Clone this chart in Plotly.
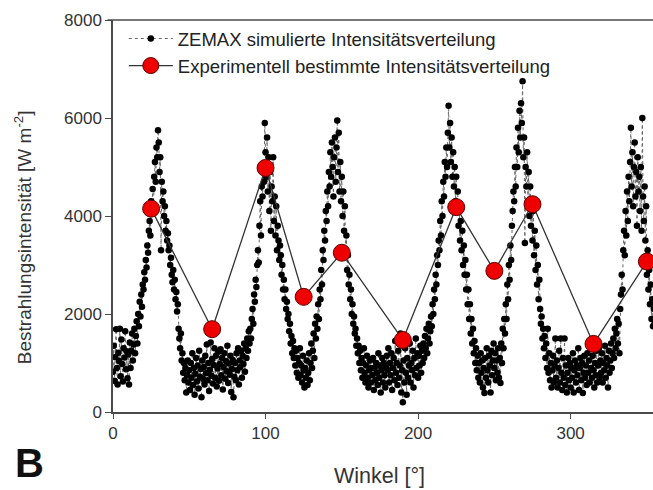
import plotly.graph_objects as go

# ZEMAX simulated intensity, sampled every 0.5 degree starting at 0 deg (W m^-2)
sim_values = [
    820, 1350, 640, 1120, 1690, 900, 560, 1210, 1040, 1700, 730, 1480, 980, 620, 1300, 1110, 1650, 870, 1240, 690,
    1180, 560, 1420, 900, 1250, 1600, 1050, 1380, 1700, 1200, 1550, 1850, 1400, 2000, 1750, 2250, 1950, 2400, 2150, 2600,
    2500, 2850, 2700, 3100, 2950, 3400, 3250, 3700, 3900, 3600, 4300, 4050, 4550, 4200, 4800, 5100, 4700, 5400, 5200, 5750,
    5500, 4900, 5200, 3300, 4700, 4300, 4500, 4000, 4200, 3700, 3900, 3500, 3650, 3300, 3400, 3000, 3150, 2800, 2650, 2900,
    2500, 2700, 2300, 2450, 2050, 2200, 1700, 1500, 1300, 1600, 1050, 1200, 800, 1000, 650, 900, 400, 750, 1050, 600,
    850, 450, 1000, 700, 1200, 550, 900, 350, 780, 1100, 620, 950, 480, 1250, 720, 880, 300, 1050, 680, 920,
    560, 1150, 790, 1380, 650, 1000, 430, 860, 1420, 740, 1080, 580, 960, 1300, 700, 1150, 520, 890, 1230, 640,
    980, 1280, 750, 1100, 460, 920, 1200, 680, 1040, 830, 1350, 590, 990, 760, 1150, 410, 880, 1060, 300, 720,
    1000, 650, 1200, 850, 1300, 560, 1050, 920, 1250, 700, 1150, 980, 1400, 820, 1300, 1100, 1500, 1250, 1650, 1400,
    1700, 1500, 1900, 2100, 1800, 2400, 2250, 2700, 2550, 3000, 3300, 3050, 3800, 4300, 3600, 4600, 4400, 5000, 4700, 5900,
    5300, 4800, 5600, 4500, 5200, 4100, 4900, 3700, 4600, 4300, 5200, 3900, 4400, 3600, 4200, 3300, 3800, 3500, 3100, 3400,
    3200, 2800, 3000, 2500, 2700, 2300, 2500, 2100, 2250, 1900, 2000, 1650, 1800, 1400, 1550, 1200, 1450, 1100, 1300, 950,
    1250, 800, 1100, 700, 1000, 1300, 750, 950, 600, 1150, 850, 500, 900, 700, 1050, 550, 800, 1200, 650, 1000,
    1400, 900, 1250, 1600, 1100, 1800, 1500, 1950, 1700, 2200, 1900, 2500, 2300, 2900, 2600, 3300, 3100, 3700, 3500, 4100,
    3900, 4500, 4200, 4900, 4600, 5300, 4800, 5500, 5000, 4400, 5200, 5600, 4700, 5400, 5950, 4900, 5700, 4500, 5100, 4300,
    4800, 4000, 4500, 3700, 4200, 3300, 3600, 2900, 3200, 2600, 2800, 2300, 2500, 2000, 2200, 1800, 1950, 1600, 1700, 1350,
    1500, 1200, 1350, 1000, 1250, 850, 1100, 700, 1000, 1300, 800, 600, 950, 1150, 700, 500, 850, 1050, 600, 900,
    750, 1100, 450, 900, 650, 1000, 800, 550, 1200, 700, 950, 400, 850, 1100, 600, 1000, 750, 500, 900, 1150,
    850, 1300, 600, 1000, 750, 1200, 450, 900, 1100, 650, 1450, 800, 1000, 550, 1250, 700, 950, 1600, 400, 850,
    200, 1050, 600, 1300, 800, 350, 1100, 700, 950, 1400, 600, 1000, 850, 1250, 500, 1100, 750, 1500, 900, 1200,
    700, 1150, 950, 1350, 800, 1250, 1000, 1400, 1100, 1550, 1300, 1700, 1200, 1500, 1800, 1400, 1650, 1950, 1750, 2200,
    2000, 2500, 2300, 2800, 2600, 3200, 3000, 3500, 3300, 3900, 3600, 4300, 4000, 4700, 4400, 5100, 4800, 5400, 5000, 5700,
    6250, 5400, 5900, 5100, 5600, 4800, 5300, 4600, 5000, 4300, 4800, 4100, 4500, 3800, 4200, 3500, 3900, 3300, 3700, 3000,
    3400, 2800, 3100, 2500, 2800, 2200, 2500, 1900, 2200, 1600, 1900, 1400, 1700, 1200, 1450, 1000, 1300, 850, 1150, 700,
    1000, 600, 1200, 800, 1050, 500, 900, 390, 1100, 700, 1300, 850, 600, 1150, 950, 400, 1250, 750, 1050, 1400,
    900, 1200, 650, 1050, 800, 1300, 700, 1100, 590, 1400, 1000, 1700, 1300, 1900, 1600, 2200, 1900, 2600, 2300, 3000,
    2700, 3400, 3100, 3800, 4100, 4500, 4300, 5000, 4600, 5400, 5000, 5800, 5300, 6150, 5600, 6300, 5900, 6750, 5200, 5600,
    3450, 5000, 4600, 5300, 4300, 4900, 4000, 4600, 3800, 4300, 3500, 4100, 3200, 3700, 2900, 3400, 2600, 3000, 2300, 2700,
    2100, 1800, 1950, 1500, 1700, 1300, 1550, 1100, 1400, 900, 1700, 800, 1200, 650, 1000, 500, 850, 1150, 600, 950,
    1500, 700, 1050, 500, 900, 1250, 600, 1500, 800, 450, 1100, 700, 1500, 550, 950, 400, 800, 1100, 650, 1000,
    500, 900, 700, 1200, 400, 850, 1050, 600, 950, 750, 1300, 450, 900, 1100, 650, 1000, 390, 800, 1150, 700,
    950, 550, 1200, 800, 1050, 600, 1400, 900, 700, 1150, 850, 500, 1000, 750, 1250, 600, 950, 1300, 700, 1050,
    800, 1200, 600, 1000, 850, 1350, 700, 1100, 950, 500, 1250, 800, 1050, 1400, 900, 1200, 1500, 1100, 1700, 1300,
    1600, 1900, 1400, 1800, 1200, 2100, 2400, 2800, 2500, 3300, 3700, 3200, 4100, 3600, 4500, 3900, 4800, 4300, 5100, 5800,
    4600, 5300, 4200, 5000, 5500, 4400, 4900, 3800, 5200, 4500, 4800, 4100, 5000, 3700, 6000, 4400, 3900, 4600, 3500, 4200,
    2800, 3300, 2500, 2900, 2200, 2600, 1900, 2300, 1750, 2100, 1800,
]
sim_step = 0.5
sim_angles = [i * sim_step for i in range(len(sim_values))]

# Experimentally determined intensity
exp_angles = [25, 65, 100, 125, 150, 190, 225, 250, 275, 315, 350]
exp_values = [4150, 1690, 4980, 2350, 3250, 1470, 4180, 2880, 4240, 1390, 3070]

x_ticks = [0, 100, 200, 300]
y_ticks = [0, 2000, 4000, 6000, 8000]

FONT = "Liberation Sans, Arial, sans-serif"
AX = "#4a4a4a"
TXT = "#333333"

fig = go.Figure()
fig.add_trace(go.Scatter(
    x=sim_angles, y=sim_values, mode="lines+markers",
    name="ZEMAX simulierte Intensitätsverteilung",
    line=dict(color="#666666", width=1, dash="dot"),
    marker=dict(color="black", size=6.5),
))
fig.add_trace(go.Scatter(
    x=exp_angles, y=exp_values, mode="lines+markers",
    name="Experimentell bestimmte Intensitätsverteilung",
    line=dict(color="#333333", width=1.3),
    marker=dict(color="#ee0000", size=17, line=dict(color="#600000", width=1)),
))

fig.update_layout(
    width=653, height=490,
    margin=dict(l=113, r=0, t=20, b=78),
    paper_bgcolor="white", plot_bgcolor="white",
    font=dict(family=FONT, size=17, color=TXT),
    showlegend=True,
    legend=dict(x=0.02, y=1.0, xanchor="left", yanchor="top",
                bgcolor="rgba(0,0,0,0)", font=dict(size=18.5, color="#222222"),
                tracegroupgap=0, itemwidth=44),
    xaxis=dict(range=[0, 354], tickvals=x_ticks, ticks="outside", ticklen=5,
               tickwidth=1.3, tickcolor=AX, showline=True, linecolor=AX, linewidth=1.5,
               showgrid=False, zeroline=False, tickfont=dict(size=17, color=TXT)),
    yaxis=dict(range=[0, 8000], tickvals=y_ticks, ticks="outside", ticklen=6,
               tickwidth=1.3, tickcolor=AX, showline=True, linecolor=AX, linewidth=1.5,
               showgrid=False, zeroline=False, tickfont=dict(size=17, color=TXT)),
    shapes=[dict(type="line", xref="paper", yref="paper", x0=-0.01, x1=1, y0=1, y1=1,
                 line=dict(color=AX, width=1.5))],
    annotations=[
        dict(text="Winkel [°]", xref="paper", yref="paper", x=0.494, y=-0.163,
             xanchor="center", yanchor="middle", showarrow=False,
             font=dict(size=21.5, color=TXT, family=FONT)),
        dict(text="Bestrahlungsintensität [W m<sup>-2</sup>]", xref="paper", yref="paper",
             x=-0.1667, y=0.446, textangle=-90, xanchor="center", yanchor="middle",
             showarrow=False, font=dict(size=19, color=TXT, family=FONT)),
        dict(text="<b>B</b>", xref="paper", yref="paper", x=-0.154, y=-0.130,
             xanchor="center", yanchor="middle", showarrow=False,
             font=dict(size=40, color="#111111", family=FONT)),
    ],
)

fig.write_html("out.html")
